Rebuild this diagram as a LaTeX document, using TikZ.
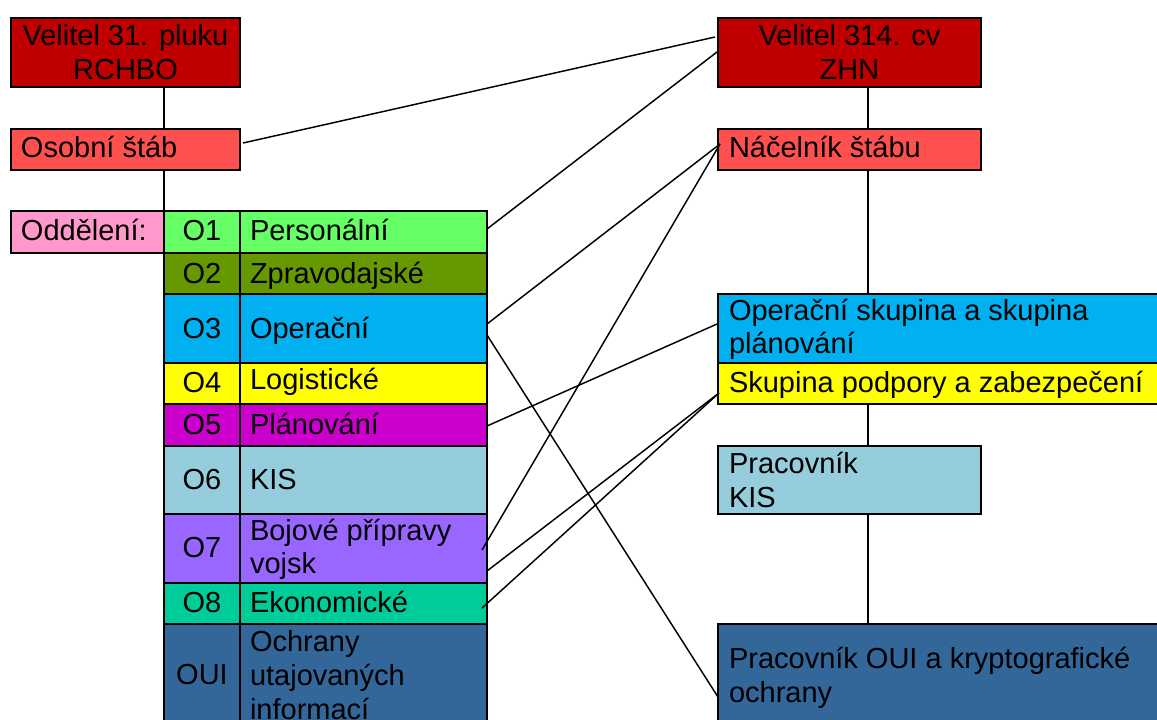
\documentclass[tikz,border=0pt]{standalone}
\usepackage{fontspec}
\setmainfont{Liberation Sans}
\usetikzlibrary{calc}
\definecolor{dred}{HTML}{C00000}
\definecolor{sred}{HTML}{FF5050}
\definecolor{cpink}{HTML}{FF99CC}
\definecolor{cgreen}{HTML}{66FF66}
\definecolor{colive}{HTML}{669900}
\definecolor{ccyan}{HTML}{00B0F0}
\definecolor{cyell}{HTML}{FFFF00}
\definecolor{cmag}{HTML}{CC00CC}
\definecolor{clblue}{HTML}{96CDDC}
\definecolor{cpurp}{HTML}{9966FF}
\definecolor{cteal}{HTML}{00CC99}
\definecolor{csteel}{HTML}{336699}
\tikzset{
  box/.style={draw=black, line width=1.5pt, inner sep=0pt, outer sep=0pt, anchor=north west},
  txt/.style={inner sep=0pt, outer sep=0pt, font=\fontsize{21.75pt}{26pt}\selectfont},
  lt/.style={txt, anchor=base west},
  ct/.style={txt, anchor=base},
  conn/.style={line width=1.1pt},
}
\newcommand\bx[6]{\node[box, fill=#2, minimum width={(#5-#3)*0.75pt}, minimum height={(#6-#4)*0.75pt}] (#1) at (#3,#4) {};}
\begin{document}
\begin{tikzpicture}[x=0.75pt, y=-0.75pt]
\useasboundingbox (0,0) rectangle (1157,719);
\clip (0,0) rectangle (1157,719);
\fill[white] (0,0) rectangle (1157,719);
\coordinate (lx) at (164,0);
\coordinate (rx) at (868,0);
% vertical connectors
\draw[conn] (11,87 -| lx) -- (11,129 -| lx);
% left boxes
\bx{v31}{dred}{11}{18}{240}{87}
\bx{osobni}{sred}{11}{129}{240}{170}
\bx{odd}{cpink}{11}{211}{164}{253}
\bx{o1c}{cgreen}{164}{211}{240}{253}
\bx{o1n}{cgreen}{240}{211}{487}{253}
\bx{o2c}{colive}{164}{253}{240}{294}
\bx{o2n}{colive}{240}{253}{487}{294}
\bx{o3c}{ccyan}{164}{294}{240}{363}
\bx{o3n}{ccyan}{240}{294}{487}{363}
\bx{o4c}{cyell}{164}{363}{240}{404}
\bx{o4n}{cyell}{240}{363}{487}{404}
\bx{o5c}{cmag}{164}{404}{240}{446}
\bx{o5n}{cmag}{240}{404}{487}{446}
\bx{o6c}{clblue}{164}{446}{240}{514}
\bx{o6n}{clblue}{240}{446}{487}{514}
\bx{o7c}{cpurp}{164}{514}{240}{583}
\bx{o7n}{cpurp}{240}{514}{487}{583}
\bx{o8c}{cteal}{164}{583}{240}{624}
\bx{o8n}{cteal}{240}{583}{487}{624}
\bx{ouic}{csteel}{164}{624}{240}{740}
\bx{ouin}{csteel}{240}{624}{487}{740}
% right boxes
\bx{v314}{dred}{718}{18}{981}{87}
\bx{nacel}{sred}{718}{129}{981}{170}
\bx{ops}{ccyan}{718}{294}{1180}{363}
\bx{spz}{cyell}{718}{363}{1180}{404}
\bx{pkis}{clblue}{718}{446}{981}{514}
\bx{poui}{csteel}{718}{624}{1180}{770}
% tree lines
\draw[conn] (v31.south -| lx) -- (osobni.north -| lx);
\draw[conn] (osobni.south -| lx) -- (o1c.north west);
\draw[conn] (v314.south -| rx) -- (nacel.north -| rx);
\draw[conn] (nacel.south -| rx) -- (ops.north -| rx);
\draw[conn] (spz.south -| rx) -- (pkis.north -| rx);
\draw[conn] (pkis.south -| rx) -- (poui.north -| rx);
% texts left
\node[ct] (t1) at (125.5,45) {Velitel 31. pluku};
\node[ct] (t2) at (125.5,79) {RCHBO};
\node[lt] (t3) at (21,157) {Osobní štáb};
\node[lt] (t4) at (21,240) {Oddělení:};
\node[ct] (t5) at (202,240) {O1};
\node[lt] (t6) at (250,240) {Personální};
\node[ct] (t7) at (202,283) {O2};
\node[lt] (t8) at (250,283) {Zpravodajské};
\node[ct] (t9) at (202,338) {O3};
\node[lt] (t10) at (250,338) {Operační};
\node[ct] (t11) at (202,392) {O4};
\node[lt] (t12) at (250,389) {Logistické};
\node[ct] (t13) at (202,434) {O5};
\node[lt] (t14) at (250,434) {Plánování};
\node[ct] (t15) at (202,489) {O6};
\node[lt] (t16) at (250,489) {KIS};
\node[ct] (t17) at (202,557) {O7};
\node[lt] (t18) at (250,540) {Bojové přípravy};
\node[lt] (t19) at (250,573) {vojsk};
\node[ct] (t20) at (202,612) {O8};
\node[lt] (t21) at (250,612) {Ekonomické};
\node[ct] (t22) at (202,684) {OUI};
\node[lt] (t23) at (250,651) {Ochrany};
\node[lt] (t24) at (250,685) {utajovaných};
\node[lt] (t25) at (250,719) {informací};
% texts right
\node[ct] (t26) at (849.5,45) {Velitel 314. cv};
\node[ct] (t27) at (849.5,79) {ZHN};
\node[lt] (t28) at (729,157) {Náčelník štábu};
\node[lt] (t29) at (729,320) {Operační skupina a skupina};
\node[lt] (t30) at (729,353) {plánování};
\node[lt] (t31) at (729,392) {Skupina podpory a zabezpečení};
\node[lt] (t32) at (729,473) {Pracovník};
\node[lt] (t33) at (729,507) {KIS};
\node[lt] (t34) at (729,668) {Pracovník OUI a kryptografické};
\node[lt] (t35) at (729,702) {ochrany};
% cross connectors
\draw[conn] ($(osobni.east)+(3,-6.5)$) -- ($(v314.west)+(-3,-15.5)$);
\draw[conn] ($(o1n.east)+(0,-3)$) -- ($(v314.west)+(-1,-0.5)$);
\draw[conn] ($(o3n.east)+(0,-4.5)$) -- ($(nacel.west)+(2,-5.5)$);
\draw[conn] ($(o7n.east)+(-5,1.5)$) -- ($(nacel.west)+(2,-5.5)$);
\draw[conn] ($(o3n.east)+(0,6.5)$) -- (poui.west);
\draw[conn] ($(o5n.east)+(0,1)$) -- ($(ops.west)+(-1,-4.5)$);
\draw[conn] ($(o7n.east)+(0,22.5)$) -- ($(spz.west)+(1,9.5)$);
\draw[conn] ($(o8n.east)+(-5,4.5)$) -- ($(spz.west)+(1,9.5)$);
\end{tikzpicture}
\end{document}
